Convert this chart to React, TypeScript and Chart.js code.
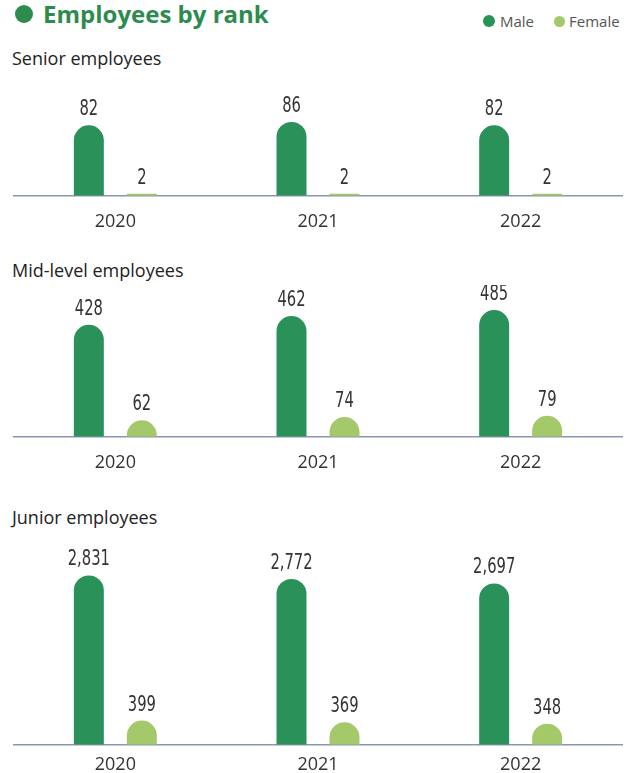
import React, { useEffect, useRef } from "react";
import { Chart, registerables } from "chart.js";

Chart.register(...registerables);

const years = ["2020", "2021", "2022"];
const seniorMale = [82, 86, 82];
const seniorFemale = [2, 2, 2];
const midMale = [428, 462, 485];
const midFemale = [62, 74, 79];
const juniorMale = [2831, 2772, 2697];
const juniorFemale = [399, 369, 348];

const MALE = "#2a9159";
const FEMALE = "#a4c96a";
const GREEN_TITLE = "#2e8b4e";

// Draw bars with a round (semicircular) top, using the elements' positions from the scales.
const pillBars = {
  id: "pillBars",
  beforeDatasetDraw(chart: any, args: any) {
    const ctx = chart.ctx;
    const meta = args.meta;
    const ds = chart.data.datasets[args.index];
    ctx.save();
    ctx.fillStyle = ds.backgroundColor;
    meta.data.forEach((el: any) => {
      const { x, y, base, width } = el.getProps(["x", "y", "base", "width"], true);
      const left = x - width / 2;
      const right = x + width / 2;
      const h = base - y;
      const r = width / 2;
      ctx.beginPath();
      if (h >= r) {
        ctx.moveTo(left, base);
        ctx.lineTo(left, y + r);
        ctx.arc(x, y + r, r, Math.PI, 0);
        ctx.lineTo(right, base);
        ctx.closePath();
      } else {
        const rr = Math.max(0, h / 2);
        ctx.moveTo(left, base);
        ctx.lineTo(left, y + rr);
        ctx.arcTo(left, y, left + rr, y, rr);
        ctx.lineTo(right - rr, y);
        ctx.arcTo(right, y, right, y + rr, rr);
        ctx.lineTo(right, base);
        ctx.closePath();
      }
      ctx.fill();
    });
    ctx.restore();
    return false;
  },
};

const valueLabels = {
  id: "valueLabels",
  afterDatasetsDraw(chart: any) {
    const ctx = chart.ctx;
    ctx.save();
    ctx.fillStyle = "#333333";
    ctx.font = "21px 'Liberation Sans Narrow', 'DejaVu Sans Condensed', sans-serif";
    ctx.textAlign = "center";
    ctx.textBaseline = "alphabetic";
    chart.data.datasets.forEach((ds: any, di: number) => {
      const meta = chart.getDatasetMeta(di);
      meta.data.forEach((el: any, i: number) => {
        const v = ds.data[i] as number;
        const txt = v.toLocaleString("en-US");
        ctx.save();
        ctx.translate(el.x, el.y - 10);
        ctx.scale(0.78, 1);
        ctx.fillText(txt, 0, 0);
        ctx.restore();
      });
    });
    ctx.restore();
  },
};

function Panel(props: { male: number[]; female: number[]; max: number; top: number; height: number; pad: number }) {
  const ref = useRef<HTMLCanvasElement | null>(null);
  useEffect(() => {
    if (!ref.current) return;
    const chart = new Chart(ref.current, {
      type: "bar",
      data: {
        labels: years,
        datasets: [
          {
            label: "Male",
            data: props.male,
            backgroundColor: MALE,
            categoryPercentage: 0.523,
            barPercentage: 0.566,
          },
          {
            label: "Female",
            data: props.female,
            backgroundColor: FEMALE,
            categoryPercentage: 0.523,
            barPercentage: 0.566,
          },
        ],
      },
      options: {
        animation: false,
        responsive: true,
        maintainAspectRatio: false,
        layout: { padding: { left: 14, right: 8, top: 0, bottom: 0 } },
        plugins: { legend: { display: false }, tooltip: { enabled: false } },
        scales: {
          x: {
            grid: { display: false, drawTicks: false },
            border: { display: true, color: "#8c97ad", width: 1.5 },
            ticks: {
              color: "#333333",
              padding: props.pad,
              font: { family: "'Open Sans', sans-serif", size: 18 },
            },
          },
          y: {
            display: false,
            min: 0,
            max: props.max,
          },
        },
      },
      plugins: [pillBars, valueLabels],
    });
    return () => chart.destroy();
  }, []);
  return (
    <div style={{ position: "absolute", left: 0, top: props.top, width: 630, height: props.height }}>
      <canvas ref={ref} />
    </div>
  );
}

const txt = (left: number, top: number, size: number, extra: any = {}) => ({
  position: "absolute" as const,
  left,
  top,
  fontSize: size,
  lineHeight: size + "px",
  fontFamily: "'Open Sans', sans-serif",
  whiteSpace: "nowrap" as const,
  ...extra,
});

const dot = (cx: number, cy: number, r: number, color: string) => ({
  position: "absolute" as const,
  left: cx - r,
  top: cy - r,
  width: r * 2,
  height: r * 2,
  borderRadius: "50%",
  background: color,
});

export default function App() {
  return (
    <div style={{ position: "fixed", left: 0, top: 0, width: 630, height: 773, overflow: "hidden", background: "#fff" }}>
      <div style={dot(24, 14, 9, GREEN_TITLE)} />
      <div style={txt(43, 2, 24, { fontWeight: 700, color: GREEN_TITLE })}>Employees by rank</div>
      <div style={dot(488.5, 21, 6, MALE)} />
      <div style={txt(500, 14, 15, { color: "#555555" })}>Male</div>
      <div style={dot(559.5, 21, 5.5, FEMALE)} />
      <div style={txt(569, 14, 15, { color: "#555555" })}>Female</div>

      <div style={txt(12, 49, 18, { color: "#222222" })}>Senior employees</div>
      <Panel male={seniorMale} female={seniorFemale} max={135} top={80} height={169} pad={16} />

      <div style={txt(12, 261, 18, { color: "#222222" })}>Mid-level employees</div>
      <Panel male={midMale} female={midFemale} max={581} top={285} height={205} pad={16} />

      <div style={txt(12, 508, 18, { color: "#222222" })}>Junior employees</div>
      <Panel male={juniorMale} female={juniorFemale} max={3424} top={540} height={246} pad={10} />
    </div>
  );
}
